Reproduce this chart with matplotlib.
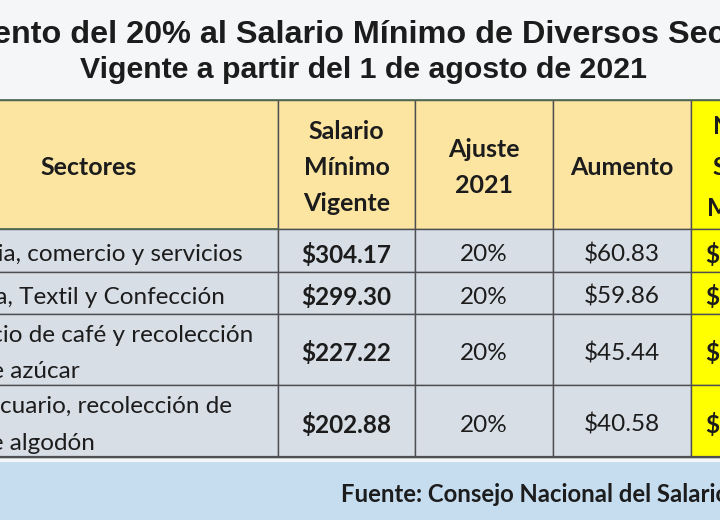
import matplotlib.pyplot as plt
from matplotlib.patches import Rectangle

# table content
sectores = [
    ["Industria, comercio y servicios"],
    ["Maquila, Textil y Confección"],
    ["Beneficio de café y recolección", "caña de azúcar"],
    ["Agropecuario, recolección de", "fibra de algodón"],
]
salario_vigente = [304.17, 299.30, 227.22, 202.88]
ajuste = [20, 20, 20, 20]
aumento = [60.83, 59.86, 45.44, 40.58]
nuevo_salario = [365.00, 359.16, 272.66, 243.46]

encabezados = [["Sectores"], ["Salario", "Mínimo", "Vigente"], ["Ajuste", "2021"],
               ["Aumento"], ["Nuevo", "Salario", "Mínimo"]]
titulo = ["Aumento del 20% al Salario Mínimo de Diversos Sectores",
          "Vigente a partir del 1 de agosto de 2021"]
fuente = "Fuente: Consejo Nacional del Salario Mínimo"

# layout in pixels
col_x = [-100, 278, 415, 553, 691, 809]
row_y = [100, 229, 272, 314, 385, 457]

HEAD = "#fbe5a0"
ROW = "#d8dee6"
YELLOW = "#ffff00"
LINE = "#4d4f52"
TXT = "#1c1c1c"
FONT = "Lato"

fig = plt.figure(figsize=(7.2, 5.2), dpi=100)
fig.patch.set_facecolor("#f4f6f8")
ax = fig.add_axes([0, 0, 1, 1])
ax.set_xlim(0, 720)
ax.set_ylim(520, 0)
ax.axis("off")

# title
ax.text(363, 35, titulo[0], ha="center", va="center", fontsize=23.3,
        fontweight="bold", family="Liberation Sans", color=TXT)
ax.text(363, 70, titulo[1], ha="center", va="center", fontsize=21.8,
        fontweight="bold", family="Liberation Sans", color=TXT)

# cell backgrounds
for c in range(5):
    for r in range(5):
        x0, x1 = col_x[c], col_x[c + 1]
        y0, y1 = row_y[r], row_y[r + 1]
        if c == 4:
            fc = YELLOW
        elif r == 0:
            fc = HEAD
        else:
            fc = ROW
        ax.add_patch(Rectangle((x0, y0), x1 - x0, y1 - y0, facecolor=fc,
                               edgecolor=LINE, linewidth=1.0))

# bottom band
ax.add_patch(Rectangle((0, 462), 720, 60, facecolor="#c6dcef", edgecolor="none"))
ax.plot([0, 720], [457, 457], color=LINE, lw=1.6)
ax.plot([0, 720], [100, 100], color="#4e6a52", lw=1.2)
ax.plot([-100, 278], [229, 229], color="#4e6a52", lw=1.2)

# header text
head_spacing = [36, 36, 36, 36, 41]
for c, lines in enumerate(encabezados):
    cx = (col_x[c] + col_x[c + 1]) / 2
    cy = (row_y[0] + row_y[1]) / 2 + 3
    n = len(lines)
    for k, t in enumerate(lines):
        y = cy + (k - (n - 1) / 2) * head_spacing[c]
        ax.text(cx, y, t, ha="center", va="center", fontsize=18,
                fontweight="bold", family=FONT, color=TXT)

# left edge of the sector labels: first label ends at x=243
fig.canvas.draw()
probe = ax.text(0, 0, sectores[0][0], fontsize=17.5, family=FONT)
w = probe.get_window_extent().width
probe.remove()
left = 243 - w

# data rows
for r in range(4):
    cy = (row_y[r + 1] + row_y[r + 2]) / 2 + 4
    lines = sectores[r]
    n = len(lines)
    for k, t in enumerate(lines):
        ax.text(left, cy + (k - (n - 1) / 2) * 37, t, ha="left", va="center",
                fontsize=17.5, family=FONT, color=TXT)
    cells = [f"${salario_vigente[r]:.2f}", f"{ajuste[r]}%",
             f"${aumento[r]:.2f}", f"${nuevo_salario[r]:.2f}"]
    weights = ["bold", "normal", "normal", "bold"]
    for c in range(4):
        cx = (col_x[c + 1] + col_x[c + 2]) / 2
        ax.text(cx, cy, cells[c], ha="center", va="center", fontsize=17.5,
                fontweight=weights[c], family=FONT, color=TXT)

ax.text(341, 494, fuente, ha="left", va="center", fontsize=17.2,
        fontweight="bold", family=FONT, color=TXT)

fig.savefig("out.png", dpi=100, facecolor=fig.get_facecolor())
